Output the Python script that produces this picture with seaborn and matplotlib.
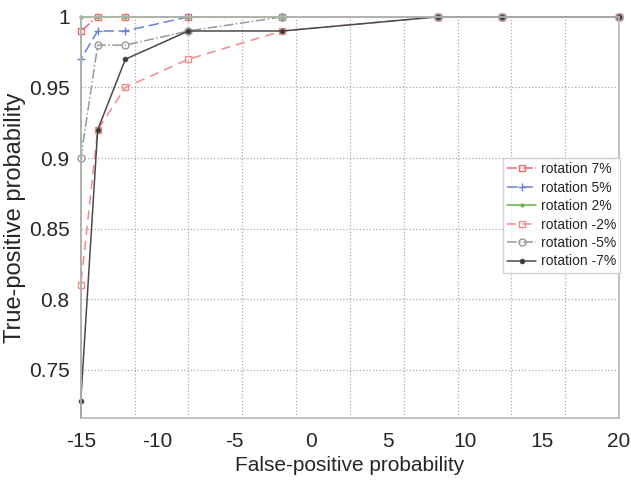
import seaborn as sns
import matplotlib.pyplot as plt
from matplotlib import font_manager
import numpy as np

# false-positive axis positions shared by all curves (first point sits on the bottom edge)
x_fp = [-15, -15, -13.9, -12.1, -8.0, -1.9, 8.2, 12.4, 20.0]

rot_p7 = [0.716, 0.99, 1, 1, 1, 1, 1, 1, 1]
rot_p5 = [0.716, 0.97, 0.99, 0.99, 1, 1, 1, 1, 1]
rot_p2 = [0.716, 1, 1, 1, 1, 1, 1, 1, 1]
rot_m2 = [0.716, 0.81, 0.92, 0.95, 0.97, 0.99, 1, 1, 1]
rot_m5 = [0.716, 0.90, 0.98, 0.98, 0.99, 1, 1, 1, 1]
rot_m7 = [0.716, 0.728, 0.92, 0.97, 0.99, 0.99, 1, 1, 1]

labels = ['rotation 7%', 'rotation 5%', 'rotation 2%',
          'rotation -2%', 'rotation -5%', 'rotation -7%']
x_ticks = [-15, -10, -5, 0, 5, 10, 15, 20]
y_ticks = [0.75, 0.8, 0.85, 0.9, 0.95, 1.0]
y_ticklabels = ['0.75', '0.8', '0.85', '0.9', '0.95', '1']

sns.set_style('white')
names = {f.name for f in font_manager.fontManager.ttflist}
fam = 'Liberation Sans Narrow' if 'Liberation Sans Narrow' in names else 'Liberation Sans'
plt.rcParams['font.family'] = [fam, 'DejaVu Sans']
plt.rcParams['axes.unicode_minus'] = False

fig = plt.figure(figsize=(6.31, 4.82), dpi=100)
ax = fig.add_axes([0.128, 0.133, 0.853, 0.832])

styles = [
    dict(color='#ee6a6a', ls='-.', marker='s', mfc='none', ms=5),
    dict(color='#6a82d8', ls=(0, (7, 3)), marker='+', mfc='#6a82d8', ms=6),
    dict(color='#66b040', ls='-', marker='.', mfc='#66b040', ms=4),
    dict(color='#f28a8a', ls=(0, (6, 4)), marker='s', mfc='none', ms=5),
    dict(color='#999999', ls='-.', marker='o', mfc='none', ms=5),
    dict(color='#4a4a4a', ls='-', marker='.', mfc='#333333', ms=6),
]
series = [rot_p7, rot_p5, rot_p2, rot_m2, rot_m5, rot_m7]

for yv, lab, st in zip(series, labels, styles):
    sns.lineplot(x=x_fp, y=yv, ax=ax, estimator=None, sort=False, label=lab,
                 color=st['color'], linewidth=1.1, clip_on=False)
    ln = ax.get_lines()[-1]
    ln.set_linestyle(st['ls'])
    ln.set_marker(st['marker'])
    ln.set_markersize(st['ms'])
    ln.set_markerfacecolor(st['mfc'])
    ln.set_markeredgecolor(st['color'])
    ln.set_markeredgewidth(1.0)
    ln.set_markevery(list(range(1, len(x_fp))))

ax.set_xlim(-15, 20)
ax.set_ylim(0.716, 1.0)
ax.set_xticks(x_ticks)
ax.set_xticks(np.linspace(-15, 20, 11), minor=True)
ax.set_yticks(y_ticks)
ax.set_yticklabels(y_ticklabels)
ax.tick_params(which='both', length=0, labelsize=15)
ax.tick_params(axis='x', pad=10)
ax.tick_params(axis='y', pad=8)
ax.grid(False)
ax.grid(True, axis='x', which='minor', linestyle=':', color='#aaaaaa', linewidth=0.9)
ax.grid(True, axis='y', which='major', linestyle=':', color='#aaaaaa', linewidth=0.9)
for s in ax.spines.values():
    s.set_color('#b8b8b8')
    s.set_linewidth(1.2)

ax.set_xlabel('False-positive probability', fontsize=15, labelpad=4)
ax.set_ylabel('True-positive probability', fontsize=17, labelpad=2)

leg = ax.legend(loc='center left', bbox_to_anchor=(0.784, 0.505), fontsize=10,
                frameon=True, fancybox=False, handlelength=2.1, borderpad=0.3,
                labelspacing=0.32, handletextpad=0.35, borderaxespad=0)
leg.get_frame().set_edgecolor('#c8c8c8')
leg.get_frame().set_linewidth(1.0)

fig.savefig('out.png', dpi=100)
